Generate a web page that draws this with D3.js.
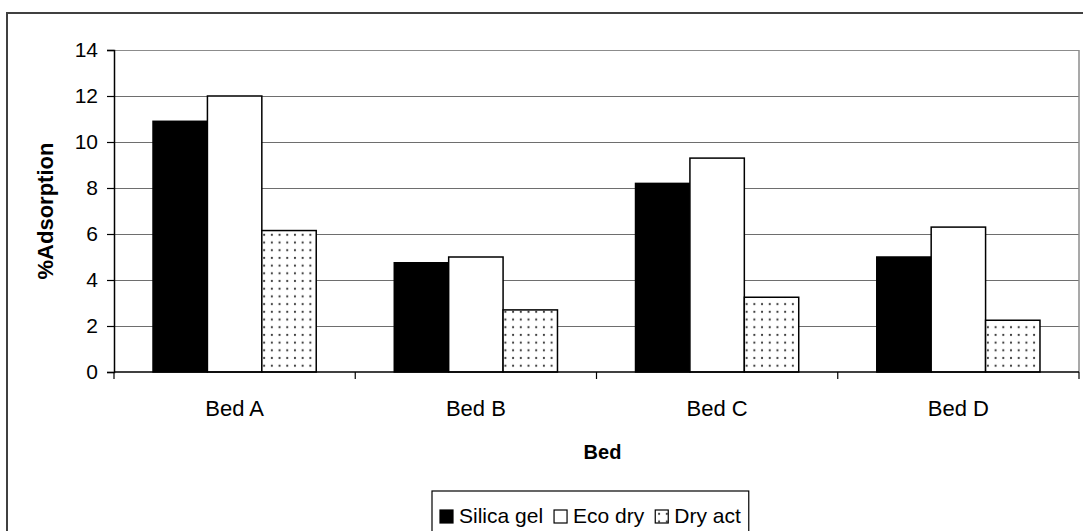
<!DOCTYPE html>
<html>
<head>
<meta charset="utf-8">
<script src="https://cdn.jsdelivr.net/npm/d3@7/dist/d3.min.js"></script>
<style>
  html, body { margin: 0; padding: 0; background: #fff; }
  svg { display: block; font-family: "Liberation Sans", Arial, sans-serif; }
</style>
</head>
<body>
<svg id="chart" width="1083" height="531"></svg>
<script>
// Adsorption per bed for three desiccants
const categories = ["Bed A", "Bed B", "Bed C", "Bed D"];
const seriesNames = ["Silica gel", "Eco dry", "Dry act"];
const silicaGel = [10.9, 4.75, 8.2, 5.0];
const ecoDry = [12.0, 5.0, 9.3, 6.3];
const dryAct = [6.15, 2.7, 3.25, 2.25];
const yTicks = [0, 2, 4, 6, 8, 10, 12, 14];

const seriesValues = [silicaGel, ecoDry, dryAct];

const svg = d3.select("#chart");
const W = 1083, H = 531;
const plot = { left: 114, right: 1079, top: 50, bottom: 372 };
const tickFont = 21;
const labelFont = 22;

// dotted fill for the third series
const defs = svg.append("defs");
const cell = 7.7;
const pat = defs.append("pattern")
  .attr("id", "dots")
  .attr("patternUnits", "userSpaceOnUse")
  .attr("width", cell).attr("height", cell);
pat.append("rect").attr("width", cell).attr("height", cell).attr("fill", "#fff");
pat.append("circle").attr("cx", cell / 2).attr("cy", cell / 2).attr("r", 1.1).attr("fill", "#3a3a3a");
const fills = ["#000", "#fff", "url(#dots)"];

// outer chart frame
svg.append("rect")
  .attr("x", 7).attr("y", 13)
  .attr("width", W + 20).attr("height", H + 20)
  .attr("fill", "#fff").attr("stroke", "#404040").attr("stroke-width", 2);

const x0 = d3.scaleBand().domain(categories).range([plot.left, plot.right]);
const gap = x0.bandwidth() * 0.3235;
const x1 = d3.scaleBand().domain(seriesNames).range([gap / 2, x0.bandwidth() - gap / 2]);
const y = d3.scaleLinear().domain([0, 14]).range([plot.bottom, plot.top]);

// gridlines
svg.append("g")
  .selectAll("line")
  .data(yTicks.filter(t => t > 0))
  .join("line")
  .attr("x1", plot.left).attr("x2", plot.right)
  .attr("y1", d => y(d) + 0.5).attr("y2", d => y(d) + 0.5)
  .attr("stroke", d => d === 14 ? "#8c8c8c" : "#6e6e6e")
  .attr("stroke-width", 1.2);

// right edge of plot area
svg.append("line")
  .attr("x1", plot.right).attr("x2", plot.right)
  .attr("y1", plot.top).attr("y2", plot.bottom)
  .attr("stroke", "#8c8c8c").attr("stroke-width", 1.5);

// bars
const groups = svg.append("g")
  .selectAll("g")
  .data(categories)
  .join("g")
  .attr("transform", d => `translate(${x0(d)},0)`);

groups.selectAll("rect")
  .data((c, i) => seriesNames.map((s, k) => ({ s, k, v: seriesValues[k][i] })))
  .join("rect")
  .attr("x", d => x1(d.s))
  .attr("width", x1.bandwidth())
  .attr("y", d => y(d.v))
  .attr("height", d => y(0) - y(d.v))
  .attr("fill", d => fills[d.k])
  .attr("stroke", "#000")
  .attr("stroke-width", 1.5);

// y axis
const yAxis = svg.append("g")
  .attr("transform", `translate(${plot.left},0)`)
  .call(d3.axisLeft(y).tickValues(yTicks).tickSize(7).tickPadding(9).tickFormat(d3.format("d")));
yAxis.select(".domain").attr("stroke", "#000").attr("stroke-width", 1.5);
yAxis.selectAll(".tick line").attr("stroke", "#000").attr("stroke-width", 1.2);
yAxis.selectAll("text").attr("font-size", tickFont).attr("fill", "#000")
  .attr("font-family", "Liberation Sans, Arial, sans-serif");

// x axis with ticks between categories
const xAxisG = svg.append("g");
xAxisG.append("line")
  .attr("x1", plot.left).attr("x2", plot.right)
  .attr("y1", plot.bottom).attr("y2", plot.bottom)
  .attr("stroke", "#000").attr("stroke-width", 1.5);
const boundaries = categories.map(c => x0(c)).concat([x0(categories[categories.length - 1]) + x0.bandwidth()]);
xAxisG.selectAll("line.tick")
  .data(boundaries)
  .join("line")
  .attr("class", "tick")
  .attr("x1", d => d).attr("x2", d => d)
  .attr("y1", plot.bottom).attr("y2", plot.bottom + 7)
  .attr("stroke", "#000").attr("stroke-width", 1.2);
xAxisG.selectAll("text")
  .data(categories)
  .join("text")
  .attr("x", d => x0(d) + x0.bandwidth() / 2)
  .attr("y", 416)
  .attr("text-anchor", "middle")
  .attr("font-size", labelFont)
  .text(d => d);

// axis titles
svg.append("text")
  .attr("x", (plot.left + plot.right) / 2 + 6)
  .attr("y", 459)
  .attr("text-anchor", "middle")
  .attr("font-size", labelFont - 2)
  .attr("font-weight", "bold")
  .text("Bed");

svg.append("text")
  .attr("transform", `translate(53,${(plot.top + plot.bottom) / 2}) rotate(-90)`)
  .attr("text-anchor", "middle")
  .attr("font-size", labelFont)
  .attr("font-weight", "bold")
  .text("%Adsorption");

// legend
const legend = svg.append("g");
const legendBox = legend.append("rect")
  .attr("fill", "#fff").attr("stroke", "#000").attr("stroke-width", 1.2);
const items = legend.selectAll("g")
  .data(seriesNames)
  .join("g");
items.append("rect")
  .attr("width", 13).attr("height", 13)
  .attr("fill", (d, i) => fills[i])
  .attr("stroke", "#000").attr("stroke-width", 1.2);
items.append("text")
  .attr("x", 19)
  .attr("y", 13)
  .attr("font-size", tickFont)
  .text(d => d);
let cursor = 0;
const positions = [];
items.each(function () {
  const w = d3.select(this).select("text").node().getComputedTextLength();
  positions.push(cursor);
  cursor += 19 + w + 11;
});
const totalW = cursor - 11;
const boxPadX = 8;
const legendLeft = 432;
const boxW = totalW + 2 * boxPadX;
const startX = legendLeft + boxPadX;
items.attr("transform", (d, i) => `translate(${startX + positions[i]},${510})`);
legendBox.attr("x", legendLeft).attr("y", 491).attr("width", boxW).attr("height", 50);
</script>
</body>
</html>
